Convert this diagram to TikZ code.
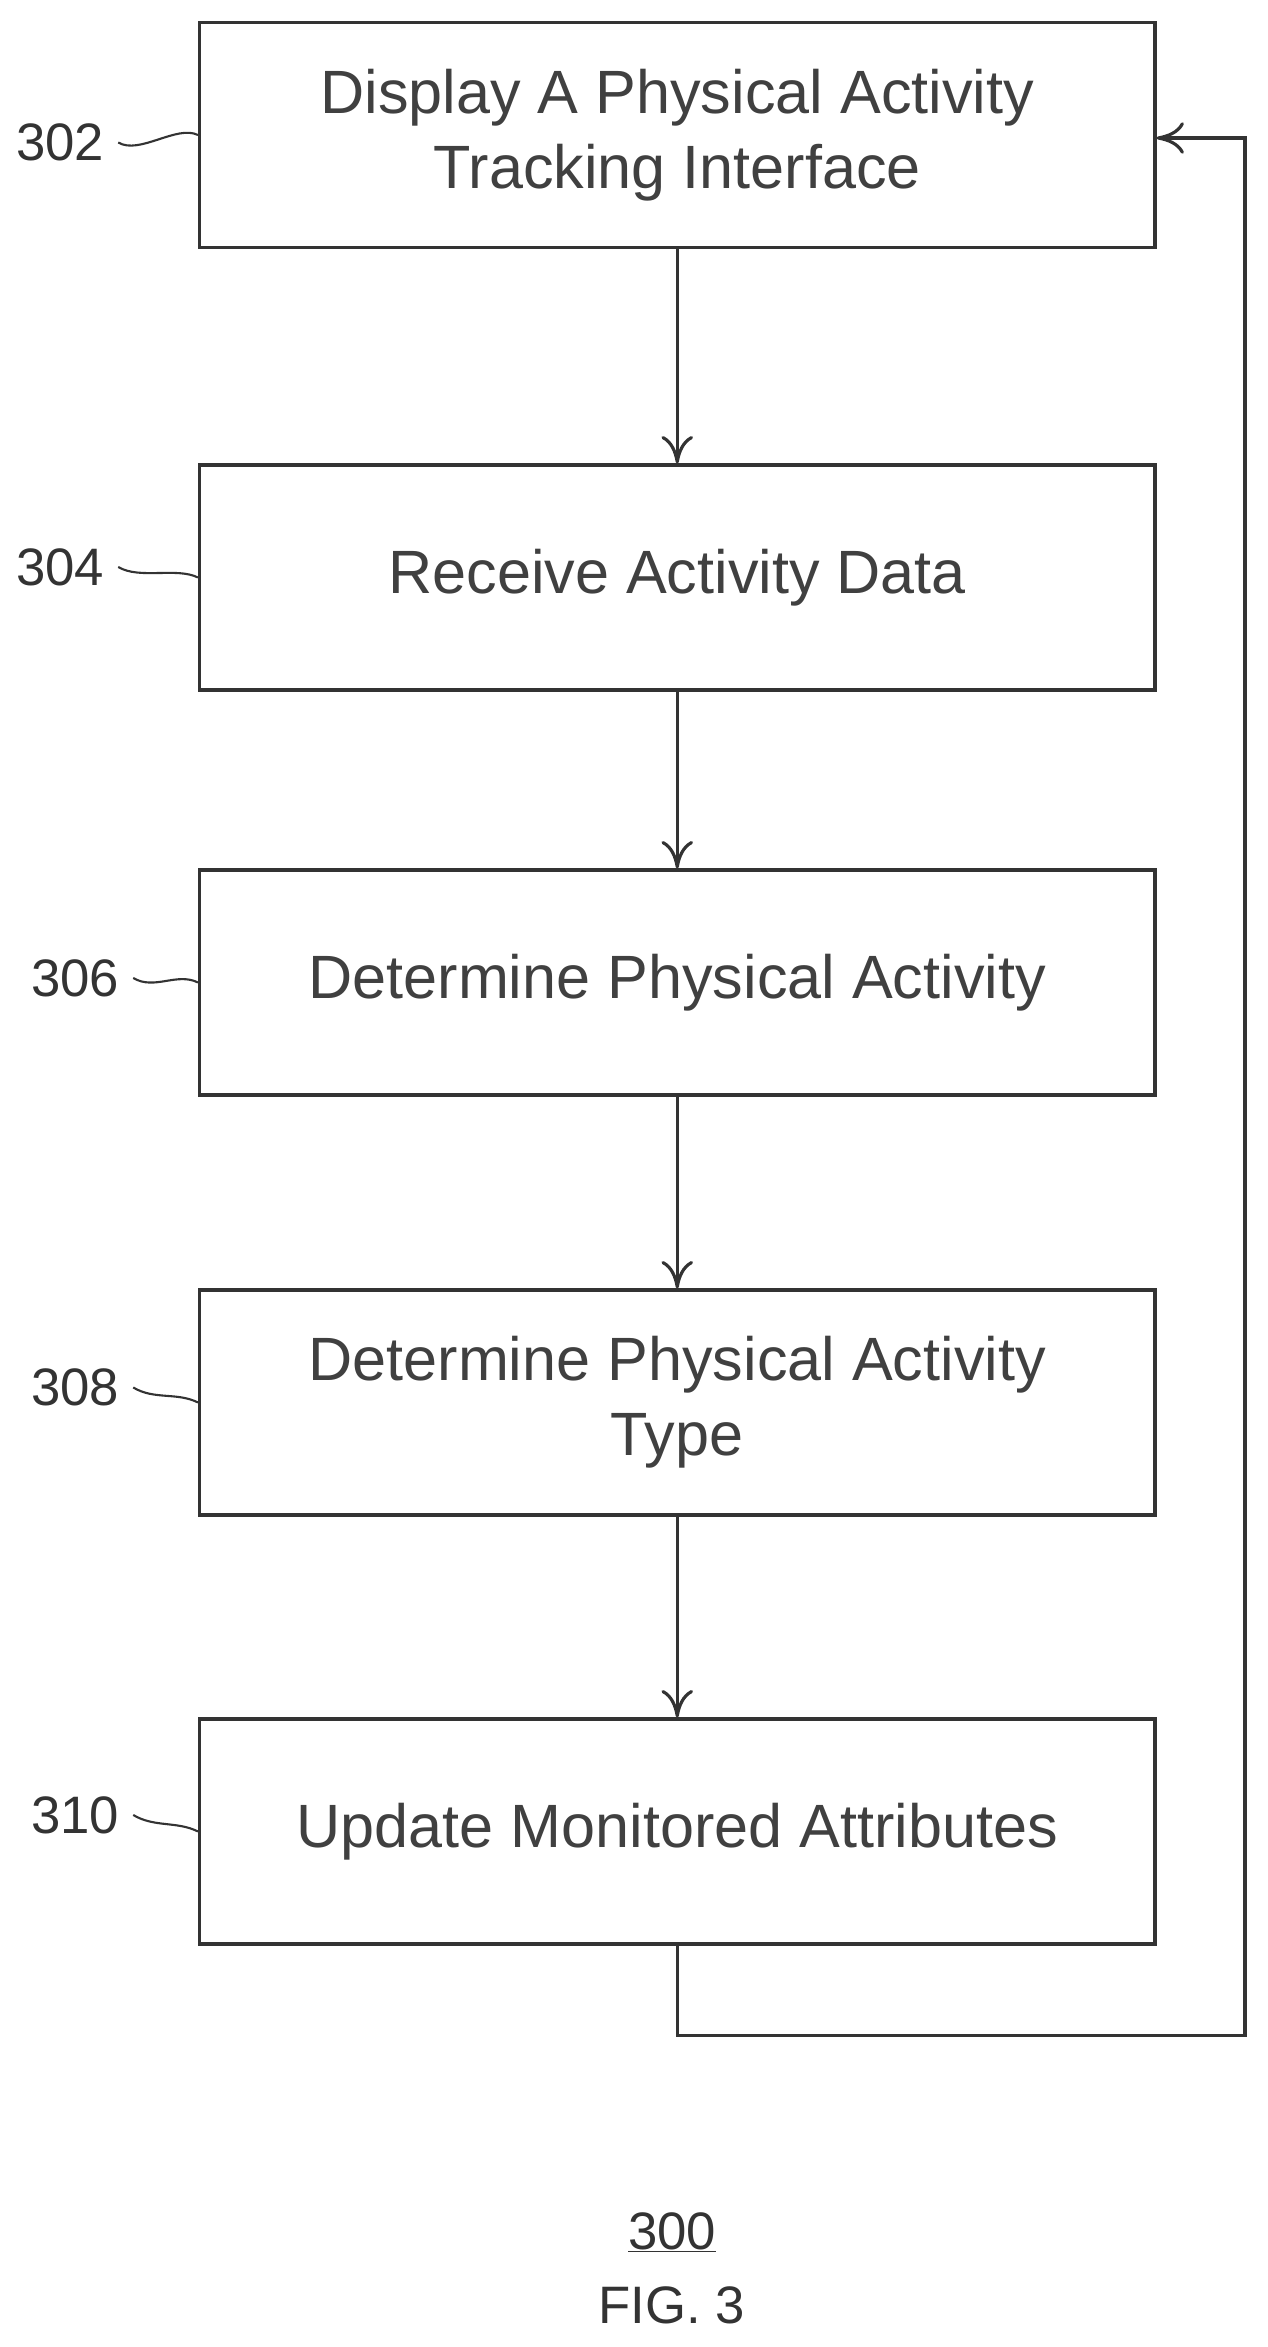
\documentclass[tikz,border=0pt]{standalone}
\usepackage{fontspec}
\setmainfont{Liberation Sans}
\usetikzlibrary{arrows.meta}

\tikzset{
    box/.style={draw=black!80,line width=3pt,minimum width=31.85cm,minimum height=7.5cm,
        align=center,font=\fontsize{58}{71}\selectfont,text=black!75},
    flow/.style={draw=black!80,line width=3pt,-{To[length=26pt,width=30pt,line width=3pt]}},
    ref/.style={font=\fontsize{50}{60}\selectfont,text=black!80},
    squig/.style={draw=black!80,line width=2pt}
}

\begin{document}
\begin{tikzpicture}[x=0.05cm,y=-0.05cm]
    \useasboundingbox (0,0) rectangle (844.7,1564.7);
    \node[box] (302) at (451.5,90) {Display A Physical Activity\\Tracking Interface};
    \node[box] (304) at (451.5,385) {Receive Activity Data};
    \node[box] (306) at (451.5,655) {Determine Physical Activity};
    \node[box] (308) at (451.5,935) {Determine Physical Activity\\Type};
    \node[box] (310) at (451.5,1221) {Update Monitored Attributes};

    %reference numerals
    \node[ref] (l302) at (40,95) {302};
    \node[ref] (l304) at (40,378) {304};
    \node[ref] (l306) at (50,652) {306};
    \node[ref] (l308) at (50,925) {308};
    \node[ref] (l310) at (50,1210) {310};
    \foreach \n in {302,304,306,308,310}
        \draw[squig] ([xshift=10pt]l\n.east) .. controls +(20pt,-12pt) and +(-20pt,10pt) .. (\n.west);

    \path[flow] (302) edge (304);
    \path[flow] (304) edge (306);
    \path[flow] (306) edge (308);
    \path[flow] (308) edge (310);

    %loop back
    \coordinate (c1) at (451.5,1357);
    \coordinate (c2) at (830,1357);
    \coordinate (c3) at (830,92);
    \draw[flow] (310.south) -- (c1) -- (c2) -- (c3) -- (302.east |- c3);

    \node[ref] (n300) at (448,1488) {\underline{300}};
    \node[ref] (fig) at (448,1537) {FIG. 3};
\end{tikzpicture}
\end{document}
